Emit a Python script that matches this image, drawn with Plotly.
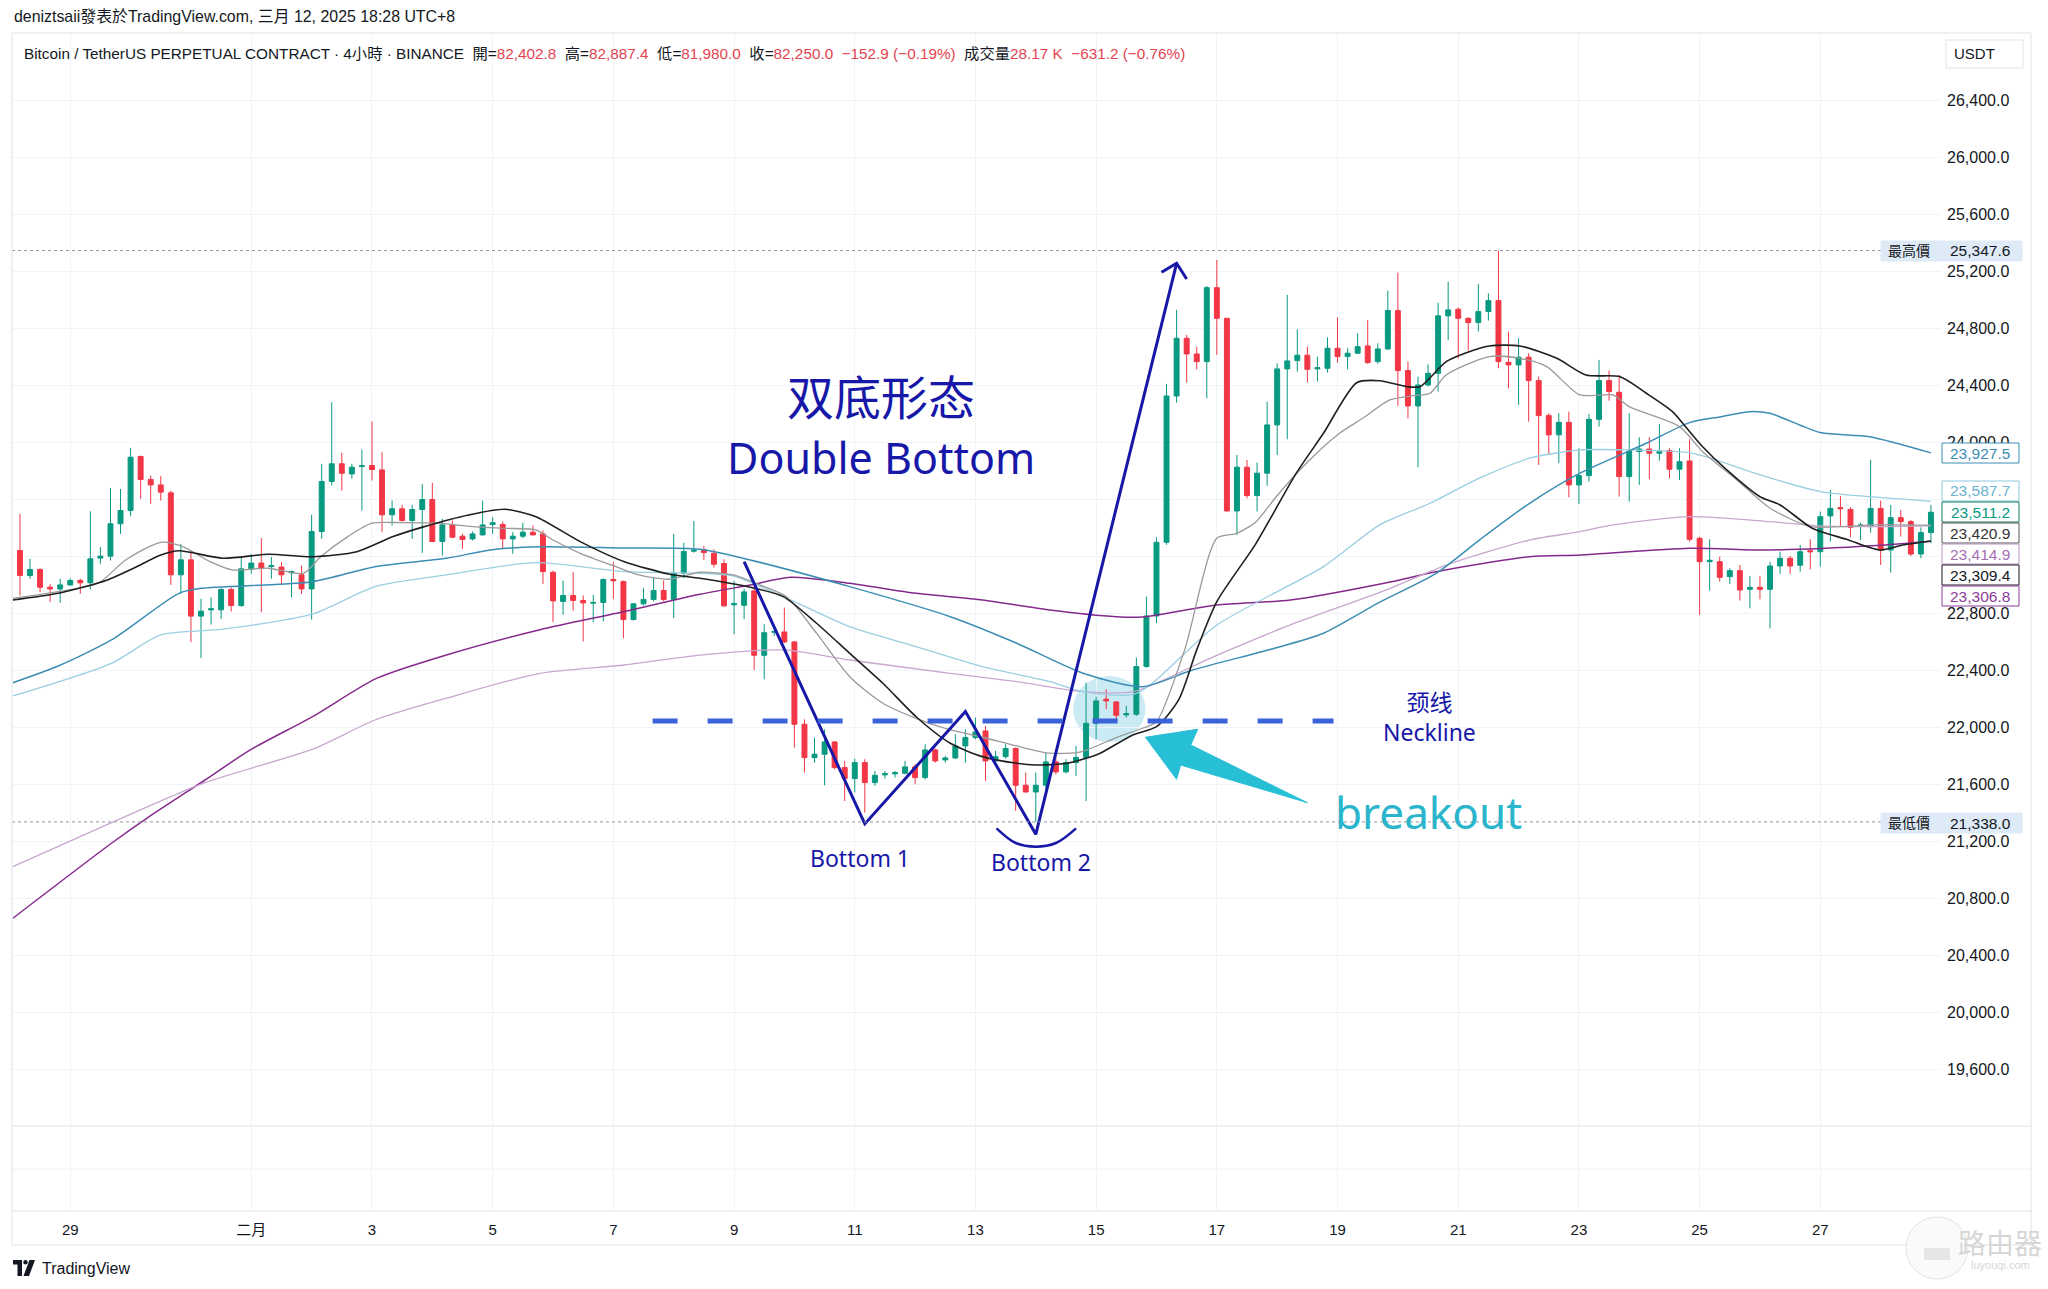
import plotly.graph_objects as go

W, H = 2048, 1289

# ---------------- data: 4h candles, index 0 = Jan 29 00:00 (UTC+8) ----------------
first_bar = -5
bar_open = [
    23242, 23067, 23109, 22985, 22973,
    23001, 23032, 23016, 23189, 23203, 23430, 23523, 23902, 23741, 23703,
    23647, 23072, 23177, 22782, 22826, 22826, 22969, 22856, 23114, 23154,
    23130, 23126, 23086, 23072, 22973, 23376, 23727, 23851, 23780, 23832,
    23839, 23808, 23493, 23535, 23453, 23530, 23600, 23306, 23422, 23343,
    23324, 23352, 23425, 23425, 23324, 23343, 23371, 23359, 23090, 22885,
    22927, 22892, 22873, 22878, 23039, 23025, 22758, 22868, 22899, 22962,
    22899, 23083, 23238, 23247, 23223, 23151, 22861, 22858, 22959, 22507,
    22669, 22671, 22601, 22023, 21789, 21813, 21899, 21719, 21642, 21754,
    21614, 21668, 21675, 21679, 21724, 21649, 21843, 21773, 21787, 21871,
    21930, 21976, 21766, 21796, 21853, 21595, 21548, 21595, 21759, 21689,
    21754, 21790, 22030, 22199, 22180, 22089, 22093, 22428, 22783, 23300,
    24327, 24732, 24622, 24568, 25087, 24872, 23520, 23827, 23628, 23785,
    24124, 24517, 24575, 24613, 24517, 24521, 24662, 24603, 24627, 24678,
    24568, 24657, 24926, 24505, 24257, 24404, 24486, 24889, 24935, 24872,
    24842, 24919, 24996, 24563, 24545, 24599, 24435, 24189, 24054, 24142,
    23703, 23768, 24163, 24435, 24353, 23761, 23937, 23955, 23925, 23944,
    23813, 23871, 23328, 23164, 23164, 23059, 23101, 22970, 22984, 22970,
    23134, 23188, 23139, 23241, 23234, 23485, 23543, 23531, 23412, 23410,
    23538, 23246, 23473, 23445, 23218, 23368,
]
bar_high = [
    23500, 23184, 23118, 23008, 23044,
    23048, 23044, 23518, 23266, 23682, 23675, 23963, 23909, 23769, 23764,
    23663, 23289, 23242, 22903, 22915, 22978, 22985, 23196, 23219, 23329,
    23196, 23161, 23102, 23137, 23493, 23851, 24283, 23928, 23851, 23951,
    24148, 23932, 23593, 23563, 23563, 23708, 23717, 23465, 23453, 23359,
    23376, 23593, 23476, 23446, 23371, 23437, 23418, 23383, 23102, 23032,
    23090, 22927, 22931, 23048, 23161, 23032, 22875, 22978, 23055, 23032,
    23359, 23296, 23450, 23275, 23251, 23181, 23029, 22975, 22994, 22725,
    22702, 22842, 22608, 22058, 21930, 21988, 21906, 21766, 21782, 21778,
    21696, 21696, 21696, 21766, 21742, 21883, 21853, 21801, 21953, 21988,
    22070, 22011, 21836, 21883, 21860, 21684, 21684, 21824, 21789, 21778,
    21871, 22316, 22217, 22269, 22187, 22152, 22491, 22919, 23335, 24411,
    24931, 24755, 24673, 25099, 25281, 24872, 23913, 23878, 23859, 24287,
    24556, 25036, 24795, 24673, 24603, 24739, 24879, 24662, 24767, 24860,
    24697, 25066, 25193, 24568, 24463, 24549, 24982, 25129, 24949, 24879,
    25113, 25048, 25347.6, 24779, 24732, 24627, 24463, 24206, 24206, 24217,
    23960, 24201, 24580, 24505, 24475, 24206, 24037, 24037, 24131, 23960,
    23960, 24023, 23340, 23321, 23199, 23118, 23141, 23064, 23064, 23164,
    23234, 23204, 23281, 23321, 23515, 23667, 23625, 23546, 23438, 23878,
    23592, 23562, 23527, 23457, 23405, 23562,
]
bar_low = [
    22927, 23044, 22950, 22880, 22875,
    22997, 22938, 22969, 23149, 23172, 23359, 23483, 23605, 23570, 23593,
    23001, 22938, 22599, 22487, 22723, 22763, 22814, 22849, 23079, 22810,
    23044, 23008, 22915, 22938, 22758, 23324, 23699, 23663, 23745, 23523,
    23734, 23371, 23418, 23446, 23324, 23226, 23301, 23207, 23329, 23254,
    23313, 23348, 23359, 23259, 23219, 23329, 23348, 23008, 22740, 22791,
    22821, 22604, 22740, 22744, 22903, 22627, 22751, 22856, 22885, 22885,
    22768, 23048, 23228, 23176, 23123, 22849, 22655, 22760, 22404, 22339,
    22643, 22592, 21859, 21684, 21754, 21595, 21707, 21485, 21544, 21403,
    21591, 21642, 21649, 21672, 21602, 21637, 21754, 21754, 21778, 21754,
    21918, 21626, 21754, 21782, 21415, 21544, 21338, 21567, 21672, 21679,
    21661, 21485, 21918, 22129, 22047, 22070, 22082, 22421, 22732, 23282,
    24280, 24421, 24514, 24311, 24615, 23516, 23352, 23609, 23516, 23696,
    23913, 24023, 24498, 24421, 24428, 24491, 24561, 24514, 24622, 24552,
    24552, 24650, 24257, 24170, 23827, 24393, 24358, 24720, 24591, 24645,
    24779, 24856, 24521, 24381, 24264, 24147, 23843, 23920, 23855, 23616,
    23569, 23726, 24112, 24294, 23621, 23586, 23703, 23742, 23873, 23749,
    23738, 23305, 22790, 22961, 23024, 23008, 22891, 22837, 22900, 22696,
    23078, 23078, 23094, 23110, 23129, 23305, 23415, 23335, 23316, 23368,
    23141, 23087, 23340, 23204, 23188, 23293,
]
bar_close = [
    23067, 23109, 22985, 22973, 23001,
    23032, 23016, 23184, 23203, 23430, 23523, 23897, 23741, 23703, 23652,
    23072, 23177, 22782, 22817, 22833, 22969, 22856, 23114, 23154, 23118,
    23137, 23072, 23095, 22973, 23376, 23727, 23851, 23785, 23827, 23837,
    23811, 23493, 23535, 23453, 23530, 23600, 23306, 23422, 23336, 23320,
    23359, 23422, 23437, 23324, 23343, 23371, 23352, 23095, 22889, 22927,
    22892, 22875, 22878, 23039, 23030, 22758, 22868, 22899, 22962, 22899,
    23083, 23235, 23245, 23228, 23146, 22854, 22870, 22952, 22507, 22666,
    22673, 22601, 22023, 21789, 21813, 21899, 21719, 21642, 21754, 21614,
    21665, 21677, 21684, 21724, 21649, 21843, 21766, 21787, 21871, 21930,
    21969, 21766, 21796, 21853, 21595, 21548, 21595, 21759, 21689, 21754,
    21790, 22030, 22187, 22187, 22086, 22098, 22428, 22783, 23300, 24327,
    24732, 24622, 24568, 25087, 24872, 23520, 23827, 23628, 23785, 24124,
    24517, 24573, 24613, 24514, 24526, 24662, 24603, 24627, 24673, 24561,
    24657, 24926, 24505, 24257, 24404, 24486, 24889, 24931, 24872, 24842,
    24919, 24996, 24568, 24545, 24599, 24435, 24189, 24054, 24142, 23703,
    23768, 24163, 24435, 24358, 23761, 23937, 23955, 23925, 23937, 23813,
    23866, 23321, 23164, 23174, 23054, 23101, 22965, 22984, 22970, 23134,
    23188, 23134, 23234, 23234, 23480, 23538, 23536, 23405, 23422, 23538,
    23246, 23473, 23445, 23218, 23368, 23511.2,
]
bar_idx = list(range(first_bar, first_bar + len(bar_open)))

# moving-average lines (read at points along each curve; x in bar index)
ma_black_x = [-5.7, -1.2, 3.7, 6.3, 9, 10.8, 15.2, 19.7, 24.1, 28.5, 32.1, 35.2, 39.6, 43.2, 46.3, 50.7,
              55.1, 59.6, 62.6, 67.6, 70.9, 74.2, 77.5, 80.8, 84.1, 87.5, 90.7, 94.1, 96, 99.1, 101, 102.4,
              105.7, 108, 110.2, 112, 114, 117.9, 121.9, 124.6, 127.9, 130.2, 132.9, 134.2, 136.8, 138.8,
              141.1, 144.1, 147.8, 150.7, 154.1, 156.7, 159.3, 160.5, 162.3, 164.7, 168, 170, 173.2, 176.6,
              179.9, 182.2, 185]
ma_black_y = [22895, 22942, 23036, 23118, 23211, 23241, 23188, 23216, 23199, 23234, 23340, 23410, 23492, 23532,
              23480, 23305, 23164, 23076, 23048, 22985, 22919, 22732, 22521, 22311, 22076, 21890, 21796, 21749,
              21737, 21749, 21784, 21820, 21950, 22006, 22194, 22545, 22884, 23293, 23785, 24065, 24420, 24434,
              24392, 24392, 24568, 24631, 24678, 24678, 24591, 24474, 24462, 24346, 24217, 24120, 23971, 23808,
              23620, 23562, 23399, 23321, 23246, 23281, 23309.4]

ma_grey_x = [-5.7, -1.2, 2.8, 5.5, 9, 11.2, 13.9, 16.1, 19.7, 23.2, 24.9, 27.6, 30, 33, 36.5, 40, 43.2, 46.3,
             48, 50.7, 53.8, 56.5, 59.6, 62.6, 65.9, 68.6, 71.2, 74.2, 77.5, 80.8, 84.1, 87.5, 90.7, 94.1,
             97.4, 100.5, 104, 106.6, 108, 110.8, 114, 116, 117.9, 119.9, 122.9, 126.2, 128.5, 131.2, 133.5,
             135.2, 136.8, 141.1, 144.1, 146.8, 150.1, 153.4, 155, 160, 162.3, 165.7, 169, 173, 176.2, 179.6, 185]
ma_grey_y = [22907, 22954, 23013, 23176, 23300, 23269, 23164, 23106, 23118, 23083, 23199, 23340, 23434, 23438,
             23434, 23410, 23398, 23387, 23316, 23223, 23141, 23071, 23041, 23090, 23071, 23000, 22919, 22662,
             22357, 22171, 22065, 21983, 21932, 21871, 21820, 21830, 21930, 21995, 22041, 22545, 23328, 23363,
             23445, 23620, 23855, 24065, 24170, 24299, 24329, 24346, 24474, 24603, 24591, 24533, 24334, 24334,
             24252, 24112, 23936, 23738, 23539, 23410, 23410, 23422, 23420.9]

ma_teal_x = [-5.7, -1.2, 4.1, 10.8, 13, 24.1, 30.3, 37.4, 41.8, 46.7, 55, 62.6, 67.6, 77.5, 87.5, 94.1, 100.7,
             106.6, 111.6, 119.4, 124.6, 130.2, 135.8, 140.1, 145.1, 150.1, 156.7, 161, 164, 167, 169, 174,
             178.9, 185]
ma_teal_y = [22315, 22432, 22615, 22942, 22977, 23024, 23129, 23188, 23246, 23269, 23260, 23251, 23176, 22989,
             22778, 22592, 22381, 22287, 22404, 22550, 22662, 22880, 23082, 23316, 23574, 23785, 23995, 24140,
             24180, 24217, 24205, 24070, 24041, 23927.5]

ma_lblue_x = [-5.7, 4.1, 9, 15.2, 24.1, 30.3, 37.4, 46.3, 55.1, 62.6, 65.9, 70.9, 77.5, 84.1, 90.7, 97.4,
              100.7, 106, 114, 124.6, 130.2, 135.2, 140.1, 145.1, 150.1, 155, 161, 164, 167, 174, 178.9, 185]
ma_lblue_y = [22222, 22451, 22650, 22690, 22797, 22989, 23071, 23157, 23094, 23083, 23064, 22919, 22708, 22568,
              22427, 22322, 22252, 22240, 22720, 23129, 23422, 23574, 23750, 23890, 23948, 23948, 23929, 23870,
              23796, 23656, 23620, 23587.7]

ma_purple_x = [-5.7, 4.1, 7.6, 13.4, 17.9, 24.1, 30.4, 37.4, 46.7, 55.1, 62.6, 67.6, 71.6, 77.5, 84.1, 90.7,
               97.4, 104, 106.6, 114, 121.3, 131, 135.8, 145.1, 150.1, 161, 169, 179.6, 185]
ma_purple_y = [20662, 21188, 21363, 21632, 21843, 22077, 22343, 22509, 22686, 22814, 22935, 23000, 23055, 23013,
               22942, 22895, 22825, 22778, 22776, 22860, 22895, 23018, 23094, 23199, 23211, 23258, 23246, 23277,
               23306.8]

ma_lpurple_x = [-5.7, 4.1, 13.4, 24.1, 30.3, 37.4, 46.7, 55.1, 62.6, 70.9, 77.5, 87.5, 94.1, 100.7, 105.7,
                113.7, 121.3, 131, 136.8, 145.1, 150.1, 153.4, 161, 169, 174, 179.6, 185]
ma_lpurple_y = [21024, 21333, 21614, 21848, 22053, 22206, 22381, 22439, 22509, 22545, 22474, 22381, 22322, 22252,
                22252, 22498, 22720, 22970, 23140, 23316, 23375, 23422, 23480, 23445, 23415, 23410, 23414.9]

# axis ticks
tick_idx = [0, 18, 30, 42, 54, 66, 78, 90, 102, 114, 126, 138, 150, 162, 174]
tick_text = ['29', '二月', '3', '5', '7', '9', '11', '13', '15', '17', '19', '21', '23', '25', '27']
price_ticks = [19600, 20000, 20400, 20800, 21200, 21600, 22000, 22400, 22800, 23200, 23600, 24000,
               24400, 24800, 25200, 25600, 26000, 26400]
# 23,600 and 23,200 are hidden behind the indicator value boxes in the original
price_tick_text = ['19,600.0', '20,000.0', '20,400.0', '20,800.0', '21,200.0', '21,600.0', '22,000.0',
                   '22,400.0', '22,800.0', '', '', '24,000.0', '24,400.0', '24,800.0', '25,200.0',
                   '25,600.0', '26,000.0', '26,400.0']

high_price = 25347.6
low_price = 21338.0

# drawn pattern (W shape) points
pattern_x = [67, 79, 89, 96, 110]
pattern_y = [23164, 21324, 22112, 21251, 25258]
arrowhead_x = [108.5, 110, 111.0]
arrowhead_y = [25195, 25258, 25148]
arc_x = [92.1, 94, 96.0, 98, 100.0]
arc_y = [21293, 21190, 21164, 21190, 21293]
neckline_price = 22046
neckline_span = [57.9, 125.6]

right_labels = ['23,927.5', '23,587.7', '23,511.2', '23,420.9', '23,414.9', '23,309.4', '23,306.8']

# ---------------- styling ----------------
UP, DN = '#089981', '#f23645'
GRID = '#f0f3fa'
FRAME = '#e0e3eb'
NAVY = '#1717a8'
FONT = 'Liberation Sans, Arial, Noto Sans CJK TC, sans-serif'
CJK = 'Noto Sans CJK SC, sans-serif'


def px(x):
    return x / W


def py(y):
    return 1 - y / H


fig = go.Figure()

# empty lower pane
fig.add_trace(go.Scatter(x=[], y=[], xaxis='x2', yaxis='y2', showlegend=False))

fig.add_trace(go.Candlestick(
    x=bar_idx, open=bar_open, high=bar_high, low=bar_low, close=bar_close,
    increasing=dict(line=dict(color=UP, width=1), fillcolor=UP),
    decreasing=dict(line=dict(color=DN, width=1), fillcolor=DN),
    whiskerwidth=0, showlegend=False, hoverinfo='skip'))

ma_specs = [
    (ma_purple_x, ma_purple_y, '#852a8c', 1.5),
    (ma_lpurple_x, ma_lpurple_y, '#c9a6cf', 1.3),
    (ma_lblue_x, ma_lblue_y, '#9acfe1', 1.3),
    (ma_teal_x, ma_teal_y, '#3c8db3', 1.5),
    (ma_grey_x, ma_grey_y, '#9a9a9a', 1.3),
    (ma_black_x, ma_black_y, '#1f1f1f', 1.6),
]
for xs, ys, col, w in ma_specs:
    fig.add_trace(go.Scatter(x=xs, y=ys, mode='lines', showlegend=False, hoverinfo='skip',
                             line=dict(color=col, width=w, shape='spline', smoothing=0.7)))

# pattern drawing
fig.add_trace(go.Scatter(x=pattern_x, y=pattern_y, mode='lines', showlegend=False, hoverinfo='skip',
                         line=dict(color=NAVY, width=3)))
fig.add_trace(go.Scatter(x=arrowhead_x, y=arrowhead_y, mode='lines', showlegend=False, hoverinfo='skip',
                         line=dict(color=NAVY, width=3)))
fig.add_trace(go.Scatter(x=arc_x, y=arc_y, mode='lines', showlegend=False, hoverinfo='skip',
                         line=dict(color=NAVY, width=2.5, shape='spline')))

shapes = []
# highlight circle near breakout
shapes.append(dict(type='circle', xref='x', yref='y', x0=99.7, x1=106.9, y0=21899, y1=22362,
                   fillcolor='rgba(140,210,230,0.45)', line=dict(width=0), layer='below'))
# neckline
shapes.append(dict(type='line', xref='x', yref='y', x0=neckline_span[0], x1=neckline_span[1],
                   y0=neckline_price, y1=neckline_price,
                   line=dict(color='#3b63d9', width=5, dash='25px,30px')))
# breakout arrow
shapes.append(dict(type='path', xref='x', yref='y',
                   path='M 106.9,21932 L 112.1,21988 L 111.4,21878 L 123.0,21473 L 110.4,21737 L 110.0,21637 Z',
                   fillcolor='#27bfd6', line=dict(color='#27bfd6', width=1)))
# highest / lowest dotted lines
for pv in (high_price, low_price):
    shapes.append(dict(type='line', xref='paper', yref='y', x0=px(12), x1=px(1881), y0=pv, y1=pv,
                       line=dict(color='#9598a1', width=1, dash='dot')))


# frame
def hline(y, x0=12, x1=2031, col=FRAME):
    shapes.append(dict(type='line', xref='paper', yref='paper', x0=px(x0), x1=px(x1), y0=py(y), y1=py(y),
                       line=dict(color=col, width=1)))


def vline(x, y0=33, y1=1245):
    shapes.append(dict(type='line', xref='paper', yref='paper', x0=px(x), x1=px(x), y0=py(y0), y1=py(y1),
                       line=dict(color=FRAME, width=1)))


hline(33)
hline(1126)
hline(1169, col='#eef0f4')
hline(1211)
hline(1245)
vline(12)
vline(2031)


# right side labels: boxes
def box(x0, x1, yc, hh, fill, border):
    shapes.append(dict(type='rect', xref='paper', yref='paper', x0=px(x0), x1=px(x1),
                       y0=py(yc + hh), y1=py(yc - hh), fillcolor=fill,
                       line=dict(color=border, width=1), layer='above'))


box(1946, 2023, 54, 14, 'white', FRAME)
box(1881, 2022, 251, 10, '#dfeaf7', '#dfeaf7')
box(1881, 2022, 823, 10, '#dfeaf7', '#dfeaf7')
label_specs = [
    (453, '#3c8db3', '#3c8db3'),
    (491, '#8cc7dd', '#6cb4d1'),
    (512, '#0b7a62', '#089981'),
    (533, '#555555', '#333333'),
    (554, '#bd93c6', '#a370b3'),
    (575, '#131722', '#131722'),
    (596, '#8b3d99', '#8b3d99'),
]
for (yc, border, _), txt in zip(label_specs, right_labels):
    box(1942, 2019, yc, 10, 'white', border)

# TradingView logo pieces
shapes.append(dict(type='rect', xref='paper', yref='paper', x0=px(13), x1=px(22), y0=py(1264.5), y1=py(1260),
                   fillcolor='#131722', line=dict(width=0)))
shapes.append(dict(type='rect', xref='paper', yref='paper', x0=px(17.5), x1=px(22), y0=py(1276), y1=py(1260),
                   fillcolor='#131722', line=dict(width=0)))
shapes.append(dict(type='circle', xref='paper', yref='paper', x0=px(23.3), x1=px(27.7), y0=py(1264.5),
                   y1=py(1260.1), fillcolor='#131722', line=dict(width=0)))
shapes.append(dict(type='path', xref='paper', yref='paper',
                   path=f'M {px(29.5)},{py(1260)} L {px(35)},{py(1260)} L {px(29)},{py(1276)} L {px(23.5)},{py(1276)} Z',
                   fillcolor='#131722', line=dict(width=0)))
# watermark circle
shapes.append(dict(type='circle', xref='paper', yref='paper', x0=px(1906), x1=px(1968), y0=py(1279),
                   y1=py(1217), fillcolor='rgba(250,250,250,0.9)', line=dict(color='#e3e3e3', width=1)))
shapes.append(dict(type='rect', xref='paper', yref='paper', x0=px(1924), x1=px(1950), y0=py(1260),
                   y1=py(1248), fillcolor='#e6e6e6', line=dict(width=0)))

annotations = []


def text(x, y, s, size, color='#131722', family=FONT, xanchor='center', yanchor='middle'):
    annotations.append(dict(x=px(x), y=py(y), xref='paper', yref='paper', text=s, showarrow=False,
                            font=dict(size=size, color=color, family=family),
                            xanchor=xanchor, yanchor=yanchor))


RED = '#e2434f'
nb = '\u00a0'
text(12, 16, 'deniztsaii發表於TradingView.com,' + nb + '三月 12, 2025 18:28 UTC+8', 15.9, xanchor='left')
line2 = ('Bitcoin / TetherUS PERPETUAL CONTRACT · 4小時 · BINANCE' + nb * 2 +
         '開=<span style="color:%s">82,402.8</span>' % RED + nb * 2 +
         '高=<span style="color:%s">82,887.4</span>' % RED + nb * 2 +
         '低=<span style="color:%s">81,980.0</span>' % RED + nb * 2 +
         '收=<span style="color:%s">82,250.0%s−152.9 (−0.19%%)</span>' % (RED, nb * 2) + nb * 2 +
         '成交量<span style="color:%s">28.17 K%s−631.2 (−0.76%%)</span>' % (RED, nb * 2))
text(22, 53, line2, 15.3, xanchor='left')

text(1974, 54, 'USDT', 15)
text(1909, 251, '最高價', 14)
text(1980, 251, '25,347.6', 15.5)
text(1909, 823, '最低價', 14)
text(1980, 823, '21,338.0', 15.5)
for (yc, _, tcol), txt in zip(label_specs, right_labels):
    text(1980, yc, txt, 15.5, color=tcol)

# pattern texts
text(881, 394, '双底形态', 47, color=NAVY, family=CJK)
text(881, 457, 'Double Bottom', 43, color=NAVY, family='Noto Sans, sans-serif')
text(860, 858, 'Bottom 1', 23, color=NAVY, family='Noto Sans, sans-serif')
text(1041, 862, 'Bottom 2', 23, color=NAVY, family='Noto Sans, sans-serif')
text(1429, 717, '颈线<br>Neckline', 23, color=NAVY, family='Noto Sans, Noto Sans CJK SC, sans-serif')
text(1428, 812, 'breakout', 44, color='#2ab5cc', family='Noto Sans, sans-serif')

# footer
text(40, 1268, 'TradingView', 16, xanchor='left')
text(2000, 1242, '路由器', 28, color='#d6d6d6', family=CJK)
text(2000, 1265, 'luyouqi.com', 11, color='#d6d6d6')

fig.update_layout(
    width=W, height=H, margin=dict(l=0, r=0, t=0, b=0),
    paper_bgcolor='white', plot_bgcolor='white', showlegend=False,
    font=dict(family=FONT, color='#131722'),
    xaxis=dict(domain=[px(12), px(1940)], range=[-5.79, 185.9], tickvals=tick_idx, showticklabels=False,
               showgrid=True, gridcolor=GRID, zeroline=False, showline=False, ticks='',
               rangeslider=dict(visible=False), fixedrange=True),
    yaxis=dict(domain=[py(1126), py(33)], range=[19204, 26874], side='right', tickvals=price_ticks,
               ticktext=price_tick_text, showgrid=True, gridcolor=GRID, zeroline=False, showline=False,
               ticks='', tickfont=dict(size=16, color='#131722'), ticklabelstandoff=6, fixedrange=True),
    xaxis2=dict(domain=[px(12), px(1940)], matches='x', anchor='y2', tickvals=tick_idx, ticktext=tick_text,
                showgrid=True, gridcolor=GRID, zeroline=False, showline=False, ticks='',
                tickfont=dict(size=15, color='#131722'), ticklabelstandoff=8, fixedrange=True),
    yaxis2=dict(domain=[py(1211), py(1126)], anchor='x2', range=[0, 1], showticklabels=False,
                showgrid=False, zeroline=False, fixedrange=True),
    shapes=shapes, annotations=annotations,
)

fig.write_html('out.html')
